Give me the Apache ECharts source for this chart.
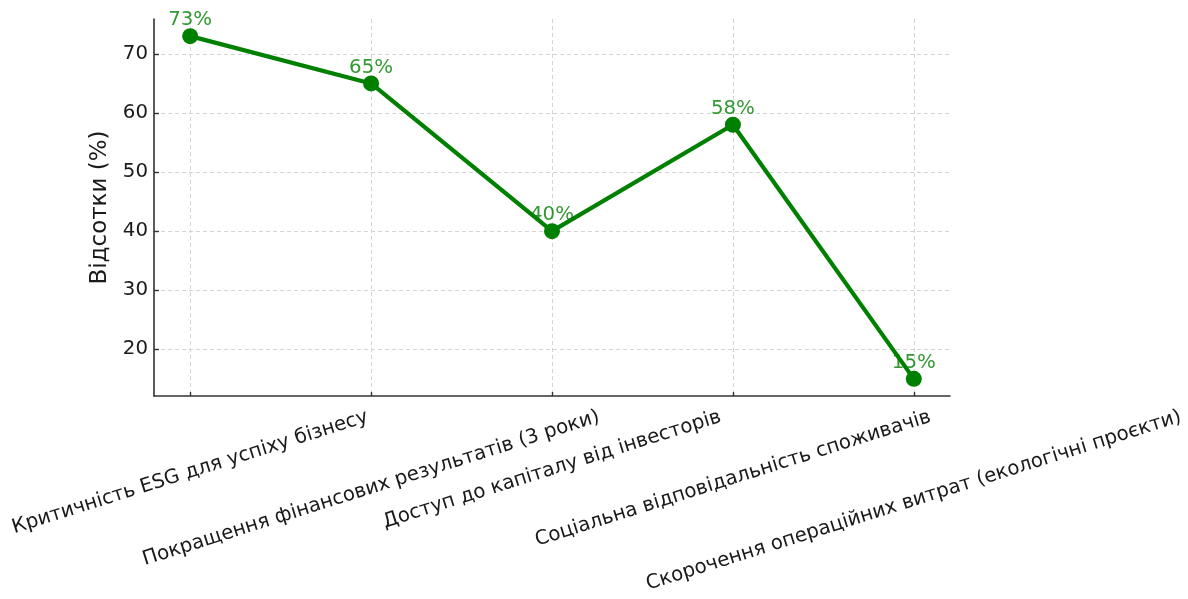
<!DOCTYPE html>
<html>
<head>
<meta charset="utf-8">
<script src="https://cdn.jsdelivr.net/npm/echarts@6/dist/echarts.min.js"></script>
<style>
  html, body { margin: 0; padding: 0; background: #ffffff; }
  #chart { width: 1188px; height: 599px; }
</style>
</head>
<body>
<div id="chart"></div>
<script>
// Survey results: share of respondents per ESG statement
const categories = [
  'Критичність ESG для успіху бізнесу',
  'Покращення фінансових результатів (3 роки)',
  'Доступ до капіталу від інвесторів',
  'Соціальна відповідальність споживачів',
  'Скорочення операційних витрат (екологічні проєкти)'
];
const values = [73, 65, 40, 58, 15];
const yTicks = [20, 30, 40, 50, 60, 70];
const yName = 'Відсотки (%)';

const FONT = '"DejaVu Sans", "Noto Sans", sans-serif';
const GREEN = '#008000';
const TEXT = '#1a1a1a';
const AXIS = '#333333';
const TICK_SIZE = 19.8;
const ROT_DEG = 17.5;

// padded data ranges, like a 5% margin on each side
const yMin = 12.1, yMax = 75.9;
const xMin = -0.2, xMax = categories.length - 1 + 0.2;

const points = values.map((v, i) => [i, v]);
const xTicks = categories.map((c, i) => i);

const chart = echarts.init(document.getElementById('chart'));

const option = {
  backgroundColor: '#ffffff',
  animation: false,
  grid: { left: 154, right: 238, top: 19, bottom: 203, containLabel: false },
  xAxis: {
    type: 'value',
    min: xMin,
    max: xMax,
    axisLine: { show: true, onZero: false, lineStyle: { color: AXIS, width: 1.6 } },
    axisTick: { show: true, inside: true, length: 4, customValues: xTicks, lineStyle: { color: AXIS, width: 1.4 } },
    axisLabel: { show: false },
    splitLine: { show: true, lineStyle: { color: '#d3d3d3', width: 1, type: [4, 3] } }
  },
  yAxis: {
    type: 'value',
    min: yMin,
    max: yMax,
    name: yName,
    nameLocation: 'middle',
    nameRotate: 90,
    nameGap: 31,
    nameTextStyle: { fontFamily: FONT, fontSize: 23, color: TEXT },
    axisLine: { show: true, onZero: false, lineStyle: { color: AXIS, width: 1.6 } },
    axisTick: { show: true, inside: true, length: 5, customValues: yTicks, lineStyle: { color: AXIS, width: 1.4 } },
    axisLabel: { show: true, customValues: yTicks, margin: 6, fontFamily: FONT, fontSize: TICK_SIZE, color: TEXT },
    splitLine: { show: true, lineStyle: { color: '#d3d3d3', width: 1, type: [4, 3] } }
  },
  series: [
    {
      // value annotations, kept beneath the line
      type: 'scatter',
      z: 1,
      symbolSize: 0,
      silent: true,
      data: points,
      label: {
        show: true,
        position: 'top',
        distance: 6,
        formatter: p => values[p.dataIndex] + '%',
        fontFamily: FONT,
        fontSize: TICK_SIZE,
        color: GREEN
      }
    },
    {
      type: 'line',
      z: 3,
      data: points,
      symbol: 'circle',
      symbolSize: 16,
      lineStyle: { color: GREEN, width: 4.2 },
      itemStyle: { color: GREEN, borderWidth: 0 }
    }
  ]
};

chart.setOption(option);

// Rotated category labels, centred under each tick
const measure = document.createElement('canvas').getContext('2d');
measure.font = TICK_SIZE + 'px ' + FONT;
const theta = ROT_DEG * Math.PI / 180;
const lineH = TICK_SIZE * 1.164;
const pad = 9.5;
const labels = categories.map((name, i) => {
  const p = chart.convertToPixel({ xAxisIndex: 0, yAxisIndex: 0 }, [i, yMin]);
  const w = measure.measureText(name).width;
  const halfH = (w * Math.sin(theta) + lineH * Math.cos(theta)) / 2;
  return {
    type: 'text',
    x: p[0],
    y: p[1] + pad + halfH,
    rotation: theta,
    silent: true,
    style: {
      text: name,
      font: TICK_SIZE + 'px ' + FONT,
      fill: TEXT,
      align: 'center',
      verticalAlign: 'middle'
    }
  };
});
chart.setOption({ graphic: labels });
</script>
</body>
</html>
